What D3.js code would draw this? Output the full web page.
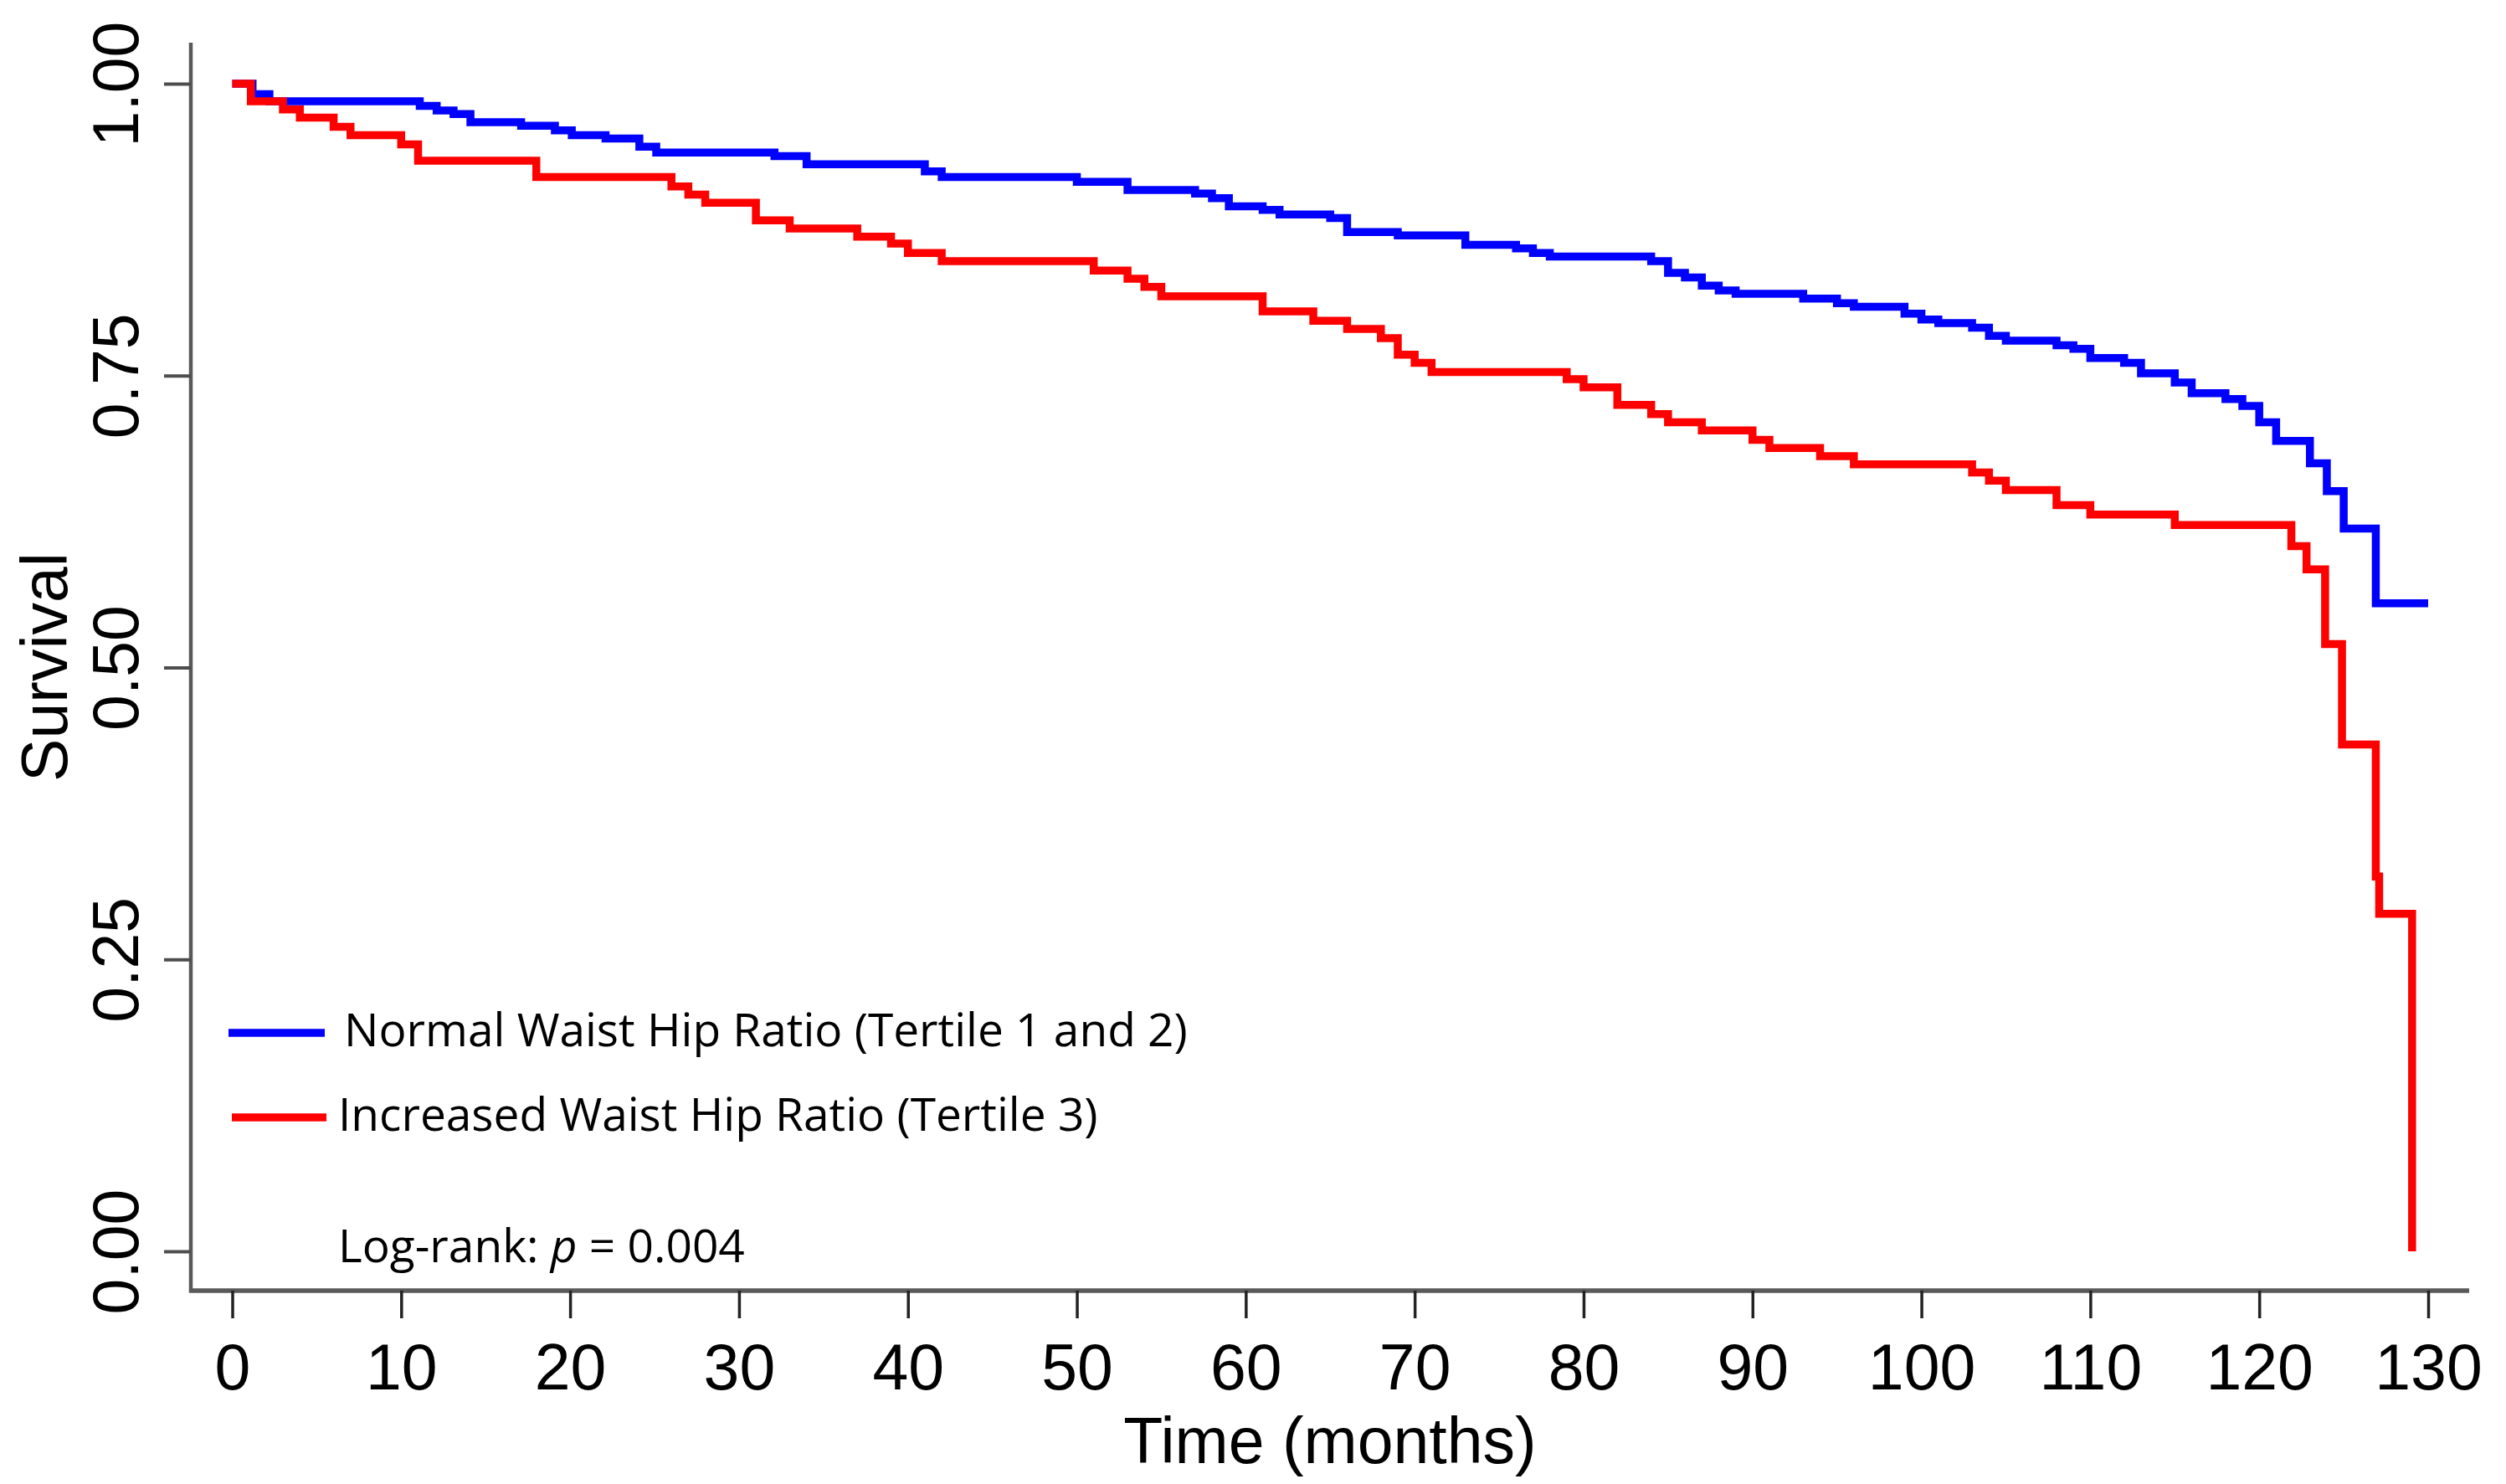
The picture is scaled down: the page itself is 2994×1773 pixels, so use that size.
<!DOCTYPE html>
<html lang="en">
<head>
<meta charset="utf-8">
<title>Survival by Waist Hip Ratio</title>
<script src="https://d3js.org/d3.v7.min.js"></script>
<style>
  body { margin: 0; background: #fff; }
</style>
</head>
<body>
<script>
// Kaplan-Meier steps: time of each drop (months) and survival after it
const normalTimes = [0, 1.2, 2.2, 11.1, 12.1, 13.1, 14.1, 17.1, 19.1, 20.1,
  22.1, 24.1, 25.1, 32.1, 34, 41, 42, 50, 53, 57,
  58, 59, 61, 62, 65, 66, 69, 73, 76, 77,
  78, 84, 85, 86, 87, 88, 89, 93, 95, 96,
  99, 100, 101, 103, 104, 105, 108, 109, 110, 112,
  113, 115, 116, 118, 119, 120, 121, 123, 124, 125,
  126.9, 130];
const normalSurv = [1.0, 0.991, 0.985, 0.981, 0.977, 0.974, 0.967, 0.964, 0.960, 0.956,
  0.953, 0.946, 0.941, 0.938, 0.931, 0.925, 0.920, 0.916, 0.909, 0.906,
  0.902, 0.895, 0.892, 0.888, 0.885, 0.873, 0.870, 0.862, 0.859, 0.855,
  0.852, 0.848, 0.838, 0.834, 0.827, 0.823, 0.820, 0.816, 0.812, 0.809,
  0.803, 0.798, 0.795, 0.791, 0.784, 0.780, 0.776, 0.773, 0.765, 0.761,
  0.752, 0.744, 0.735, 0.730, 0.724, 0.710, 0.694, 0.675, 0.651, 0.619,
  0.555, 0.555];

const increasedTimes = [0, 1.1, 3, 4, 6, 7, 10, 11, 18, 26,
  27, 28, 31, 33, 37, 39, 40, 42, 51, 53,
  54, 55, 61, 64, 66, 68, 69, 70, 71, 79,
  80, 82, 84, 85, 87, 90, 91, 94, 96, 103,
  104, 105, 108, 110, 115, 121.9, 122.8, 123.9, 124.9, 126.9,
  127.1, 129.05];
const increasedSurv = [1.0, 0.985, 0.978, 0.971, 0.963, 0.956, 0.948, 0.934, 0.920, 0.912,
  0.905, 0.898, 0.883, 0.876, 0.869, 0.863, 0.855, 0.848, 0.840, 0.833,
  0.826, 0.818, 0.805, 0.797, 0.790, 0.782, 0.768, 0.761, 0.753, 0.747,
  0.740, 0.725, 0.717, 0.710, 0.703, 0.695, 0.688, 0.681, 0.674, 0.667,
  0.660, 0.652, 0.639, 0.631, 0.622, 0.604, 0.584, 0.520, 0.434, 0.321,
  0.289, 0.0];

const xTicks = d3.range(0, 131, 10);
const yTicks = [0, 0.25, 0.5, 0.75, 1.0];
const seriesNames = ["Normal Waist Hip Ratio (Tertile 1 and 2)", "Increased Waist Hip Ratio (Tertile 3)"];
const seriesColors = ["#0000ff", "#ff0000"];
const pValue = "0.004";

const width = 2994, height = 1773;
const axisFont = "'Liberation Sans', Arial, sans-serif";
const legendFont = "'Open Sans', 'Noto Sans', sans-serif";

const svg = d3.select("body").append("svg")
  .attr("width", width)
  .attr("height", height)
  .style("display", "block");

const x = d3.scaleLinear().domain([0, 130]).range([277.5, 2901]);
const y = d3.scaleLinear().domain([0, 1]).range([1495, 100]);

const axisLeftX = 228, axisBottomY = 1542;

// axis lines
svg.append("line")
  .attr("x1", axisLeftX).attr("x2", axisLeftX)
  .attr("y1", 51).attr("y2", axisBottomY + 2)
  .attr("stroke", "#595959").attr("stroke-width", 4.5);
svg.append("line")
  .attr("x1", axisLeftX - 2).attr("x2", 2950)
  .attr("y1", axisBottomY).attr("y2", axisBottomY)
  .attr("stroke", "#595959").attr("stroke-width", 5.5);

// y axis
const yAxis = d3.axisLeft(y)
  .tickValues(yTicks)
  .tickFormat(d3.format(".2f"))
  .tickSize(32)
  .tickSizeOuter(0);
const gy = svg.append("g")
  .attr("transform", "translate(" + axisLeftX + ",0)")
  .call(yAxis);
gy.select(".domain").remove();
gy.selectAll(".tick line").attr("stroke", "#4d4d4d").attr("stroke-width", 4);
gy.selectAll(".tick text")
  .attr("transform", "rotate(-90)")
  .attr("x", 0).attr("y", -63).attr("dy", 0)
  .attr("text-anchor", "middle")
  .attr("font-family", axisFont)
  .attr("font-size", "77px")
  .attr("fill", "#000");

// x axis
const xAxis = d3.axisBottom(x)
  .tickValues(xTicks)
  .tickSize(33)
  .tickSizeOuter(0);
const gx = svg.append("g")
  .attr("transform", "translate(0," + axisBottomY + ")")
  .call(xAxis);
gx.select(".domain").remove();
gx.selectAll(".tick line").attr("stroke", "#222").attr("stroke-width", 3.5);
gx.selectAll(".tick text")
  .attr("y", 118).attr("dy", 0)
  .attr("font-family", axisFont)
  .attr("font-size", "77px")
  .attr("fill", "#000");

// axis titles
svg.append("text")
  .text("Time (months)")
  .attr("x", (axisLeftX + 2950) / 2)
  .attr("y", 1748)
  .attr("text-anchor", "middle")
  .attr("font-family", axisFont)
  .attr("font-size", "77px")
  .attr("fill", "#000");

svg.append("text")
  .text("Survival")
  .attr("transform", "translate(80,797) rotate(-90)")
  .attr("text-anchor", "middle")
  .attr("font-family", axisFont)
  .attr("font-size", "77px")
  .attr("fill", "#000");

// survival curves
const line = d3.line()
  .x(function(d) { return x(d.t); })
  .y(function(d) { return y(d.s); })
  .curve(d3.curveStepAfter);

const normalData = normalTimes.map(function(t, i) { return { t: t, s: normalSurv[i] }; });
const increasedData = increasedTimes.map(function(t, i) { return { t: t, s: increasedSurv[i] }; });

[normalData, increasedData].forEach(function(data, i) {
  svg.append("path")
    .datum(data)
    .attr("d", line)
    .attr("fill", "none")
    .attr("stroke", seriesColors[i])
    .attr("stroke-width", 9.5)
    .attr("stroke-linejoin", "miter");
});

// legend
const legendRows = [
  { lx1: 273, lx2: 388, ly: 1234, tx: 411, ty: 1250 },
  { lx1: 277, lx2: 390, ly: 1335, tx: 404, ty: 1351 }
];
legendRows.forEach(function(r, i) {
  svg.append("line")
    .attr("x1", r.lx1).attr("x2", r.lx2)
    .attr("y1", r.ly).attr("y2", r.ly)
    .attr("stroke", seriesColors[i]).attr("stroke-width", 9.5);
  svg.append("text")
    .text(seriesNames[i])
    .attr("x", r.tx).attr("y", r.ty)
    .attr("font-family", legendFont)
    .attr("font-size", "55px")
    .attr("fill", "#000");
});

const lr = svg.append("text")
  .attr("x", 404).attr("y", 1508)
  .attr("font-family", legendFont)
  .attr("font-size", "55px")
  .attr("fill", "#000");
lr.append("tspan").text("Log-rank: ");
lr.append("tspan").text("p").attr("font-style", "italic");
lr.append("tspan").text(" = " + pValue);
</script>
</body>
</html>
